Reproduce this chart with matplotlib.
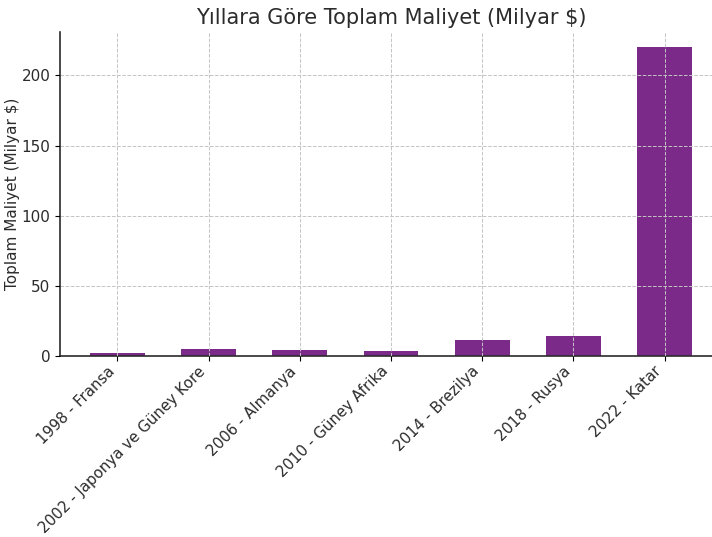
import matplotlib
matplotlib.use("Agg")
import matplotlib.pyplot as plt

# data
labels = ["1998 - Fransa", "2002 - Japonya ve Güney Kore", "2006 - Almanya",
          "2010 - Güney Afrika", "2014 - Brezilya", "2018 - Rusya", "2022 - Katar"]
costs = [2.3, 5.0, 4.3, 3.6, 11.6, 14.2, 220.0]

text_color = "#2b2b2b"
bar_color = "#7b2a8a"

fig = plt.figure(figsize=(7.12, 5.37), dpi=100)
ax = fig.add_axes([60 / 712, 181 / 537, 662 / 712, 324 / 537])

x = range(len(labels))
ax.bar(x, costs, width=0.6, color=bar_color, zorder=2)

ax.grid(True, linestyle="--", color="#c4c4c4", linewidth=0.7, zorder=3)
ax.set_axisbelow(False)

ax.set_xticks(list(x))
ax.set_xticklabels(labels, rotation=45, ha="right", fontsize=10.8, color=text_color)
ax.tick_params(axis="x", pad=2)
ax.tick_params(axis="y", labelsize=11, labelcolor=text_color)
ax.set_ylabel("Toplam Maliyet (Milyar $)", fontsize=11, color=text_color, labelpad=1)
ax.set_title("Yıllara Göre Toplam Maliyet (Milyar $)", fontsize=15,
             color=text_color, pad=6)

ax.spines["top"].set_visible(False)
ax.spines["right"].set_visible(False)
ax.spines["left"].set_color(text_color)
ax.spines["bottom"].set_color(text_color)
ax.spines["left"].set_linewidth(1.2)
ax.spines["bottom"].set_linewidth(1.2)

fig.savefig("out.png", dpi=100)
